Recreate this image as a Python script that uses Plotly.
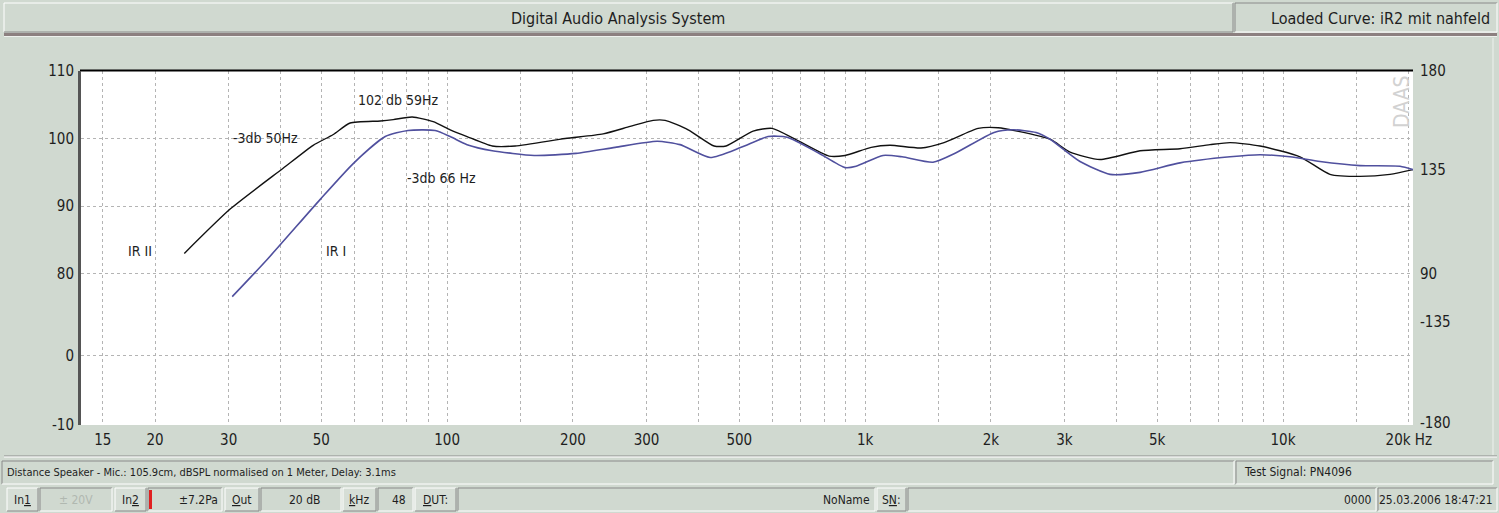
import plotly.graph_objects as go

# ---------------- data ----------------
ir2_freq = [23.5, 30.3, 40.5, 47.8, 53.4, 58.6, 69.2, 74.3, 82.5, 92.6,
            101.7, 111.6, 128.2, 145.5, 191.6, 236.2, 274.1, 311.1, 332.3, 377.3,
            435.2, 465.0, 539.6, 599.1, 680.1, 820.1, 895.5, 1034, 1147, 1361,
            1545, 1864, 2081, 2310, 2771, 3094, 3650, 4550, 5670, 6690,
            7470, 8810, 10980, 12950, 15280, 18030, 20470]
ir2_db = [83.0, 89.6, 95.6, 99.0, 100.6, 102.3, 102.6, 102.8, 103.2, 102.5,
          101.3, 100.3, 98.9, 98.9, 100.0, 100.7, 101.8, 102.7, 102.7, 101.3,
          98.9, 98.9, 101.1, 101.5, 99.9, 97.4, 97.5, 98.7, 99.0, 98.6,
          99.4, 101.5, 101.6, 101.1, 99.9, 98.0, 96.9, 98.2, 98.5, 99.1,
          99.4, 98.9, 97.3, 94.7, 94.4, 94.7, 95.4]

ir1_freq = [30.6, 37.1, 49.7, 59.6, 71.1, 80.6, 93.6, 101.7, 111.6, 128.2,
            161.5, 203.5, 252.3, 318, 360.9, 425.8, 505.1, 586, 650.6, 772.1,
            895.5, 951.7, 1104, 1226, 1454, 1651, 2035, 2260, 2565, 2771,
            3268, 3856, 4550, 5670, 7470, 8810, 10390, 12260, 15280, 19050,
            20470]
ir1_db = [76.6, 82.1, 91.0, 96.3, 100.3, 101.2, 101.2, 100.3, 99.1, 98.2,
          97.5, 97.8, 98.7, 99.6, 99.1, 97.2, 98.7, 100.3, 100.2, 97.9,
          95.7, 95.9, 97.5, 97.3, 96.5, 97.9, 100.9, 101.3, 100.9, 99.9,
          96.6, 94.7, 95.0, 96.4, 97.3, 97.6, 97.3, 96.6, 96.0, 95.9,
          95.4]

x_tick_vals = [15, 20, 30, 50, 100, 200, 300, 500, 1000, 2000, 3000, 5000, 10000, 20000]
x_tick_text = ["15", "20", "30", "50", "100", "200", "300", "500", "1k", "2k", "3k", "5k", "10k", "20k Hz"]
x_minor_vals = [40, 60, 70, 80, 90, 150, 400, 600, 700, 800, 900, 1500,
                4000, 6000, 7000, 8000, 9000, 15000]

y_tick_vals = [110, 100, 90, 80, 67.85, 57.6]
y_tick_text = ["110", "100", "90", "80", "0", "-10"]
y2_tick_vals = [110, 95.4, 80.0, 72.9, 58.0]
y2_tick_text = ["180", "135", "90", "-135", "-180"]

# ---------------- layout geometry ----------------
W, H = 1499, 513
L, R, T, B = 81, 1413, 71, 425
PW, PH = R - L, B - T

def PX(x):
    return (x - L) / PW

def PY(y):
    return (B - y) / PH

BG = "#d0d9d0"
FONT = "Liberation Sans Narrow, Arial Narrow, DejaVu Sans Condensed, Liberation Sans, sans-serif"
TXT = "#1e1e1e"

fig = go.Figure()
fig.add_trace(go.Scatter(x=ir2_freq, y=ir2_db, mode="lines", name="IR II",
                         line=dict(color="#111111", width=1.4, shape="spline", smoothing=0.6),
                         hoverinfo="skip"))
fig.add_trace(go.Scatter(x=ir1_freq, y=ir1_db, mode="lines", name="IR I",
                         line=dict(color="#50509e", width=1.6, shape="spline", smoothing=0.6),
                         hoverinfo="skip"))
fig.add_trace(go.Scatter(x=[None], y=[None], yaxis="y2", showlegend=False, hoverinfo="skip"))

shapes = []

def line(x0, y0, x1, y1, color, width=1):
    shapes.append(dict(type="line", xref="paper", yref="paper",
                       x0=PX(x0), y0=PY(y0), x1=PX(x1), y1=PY(y1),
                       line=dict(color=color, width=width)))

def rect(x0, y0, x1, y1, fill, color=None, width=0):
    shapes.append(dict(type="rect", xref="paper", yref="paper",
                       x0=PX(x0), y0=PY(y0), x1=PX(x1), y1=PY(y1),
                       fillcolor=fill, line=dict(color=color or fill, width=width)))

def bevel(x0, y0, x1, y1, raised=True, fill=None):
    if fill:
        rect(x0, y0, x1, y1, fill)
    lt, dk = ("#ffffff", "#8a8a8a") if raised else ("#8a8a8a", "#ffffff")
    line(x0, y0, x1, y0, lt)
    line(x0, y0, x0, y1, lt)
    line(x0, y1, x1, y1, dk)
    line(x1, y0, x1, y1, dk)

# title bar
bevel(4, 3, 1233, 32, raised=True)
bevel(1235, 3, 1497, 32, raised=False)
line(4, 34.5, 1497, 34.5, "#8c8080", 3)
line(4, 36.5, 1497, 36.5, "#eef2ee", 1)
# main panel border
line(1493, 38, 1493, 455, "#eef2ee", 1)
line(4, 456, 1497, 456, "#8c8c8c", 1)
line(4, 457, 1497, 457, "#ffffff", 1)
# status row
bevel(2, 461, 1234, 484, raised=False)
bevel(1236, 461, 1493, 484, raised=False)
# bottom row
btns = [(7, 38), (115, 146), (225, 259), (343, 376), (415, 456), (877, 906)]
for a, b in btns:
    bevel(a, 488, b, 511, raised=True, fill="#d6ded6")
fields = [(40, 112), (148, 222), (261, 341), (378, 413), (458, 875), (908, 1376), (1378, 1497)]
for a, b in fields:
    bevel(a, 488, b, 511, raised=False)
rect(149, 490, 152, 509, "#e02020")
# plot borders
line(L - 1, T - 0.5, R, T - 0.5, "#000000", 2)
line(L - 1.5, T, L - 1.5, B, "#555555", 3)

ann = []

def text(x, y, s, size=15, anchor="left", color=TXT, angle=0, yanchor="middle"):
    ann.append(dict(xref="paper", yref="paper", x=PX(x), y=PY(y), text=s,
                    showarrow=False, xanchor=anchor, yanchor=yanchor, textangle=angle,
                    font=dict(family=FONT, size=size, color=color)))

text(618, 18, "Digital Audio Analysis System", 16, "center")
text(1492, 18, "Loaded Curve: iR2 mit nahfeld", 16, "right")
text(5, 472, "Distance Speaker - Mic.: 105.9cm, dBSPL normalised on 1 Meter, Delay: 3.1ms", 11)
text(1242, 472, "Test Signal: PN4096", 12)
BS = 12
text(22, 500, "In<u>1</u>", BS, "center")
text(76, 500, "± 20V", BS, "center", color="#b0b8b0")
text(220, 500, "±7.2Pa", BS, "right")
text(130, 500, "In<u>2</u>", BS, "center")
text(242, 500, "<u>O</u>ut", BS, "center")
text(322, 500, "20 dB", BS, "right")
text(359, 500, "<u>k</u>Hz", BS, "center")
text(408, 500, "48", BS, "right")
text(435, 500, "<u>D</u>UT:", BS, "center")
text(872, 500, "NoName", BS, "right")
text(891, 500, "S<u>N</u>:", BS, "center")
text(1374, 500, "0000", BS, "right")
text(1495, 500, "25.03.2006 18:47:21", BS, "right")

# chart labels
text(356, 100, "102 db 59Hz", 14)
text(231, 138, "-3db 50Hz", 14)
text(405, 178, "-3db 66 Hz", 14)
text(126, 251, "IR II", 14)
text(324, 251, "IR I", 14)
text(1402, 102, "DAAS", 21, "center", color="#d2d2d2", angle=-90)

grid = dict(showgrid=True, gridcolor="#b4b4b4", gridwidth=1, griddash="dot")

fig.update_layout(
    width=W, height=H,
    margin=dict(l=L, r=W - R, t=T, b=H - B, pad=0),
    paper_bgcolor=BG, plot_bgcolor="#ffffff",
    showlegend=False,
    font=dict(family=FONT, size=15, color=TXT),
    shapes=shapes, annotations=ann,
    xaxis=dict(type="log", range=[1.1239, 4.3110], tickmode="array",
               tickvals=x_tick_vals, ticktext=x_tick_text, ticks="",
               zeroline=False, showline=False, tickfont=dict(size=15),
               ticklabelstandoff=4,
               minor=dict(tickmode="array", tickvals=x_minor_vals, ticks="", **grid),
               **grid),
    yaxis=dict(range=[57.6, 110], tickmode="array", tickvals=y_tick_vals,
               ticktext=y_tick_text, ticks="", zeroline=False, showline=False,
               ticklabelstandoff=6, tickfont=dict(size=15), **grid),
    yaxis2=dict(range=[57.6, 110], overlaying="y", side="right", tickmode="array",
                tickvals=y2_tick_vals, ticktext=y2_tick_text, ticks="",
                showgrid=False, zeroline=False, showline=False,
                ticklabelstandoff=6, tickfont=dict(size=15)),
)

fig.write_html("out.html", config={"displayModeBar": False},
               post_script="document.body.style.margin='0';document.body.style.overflow='hidden';")
